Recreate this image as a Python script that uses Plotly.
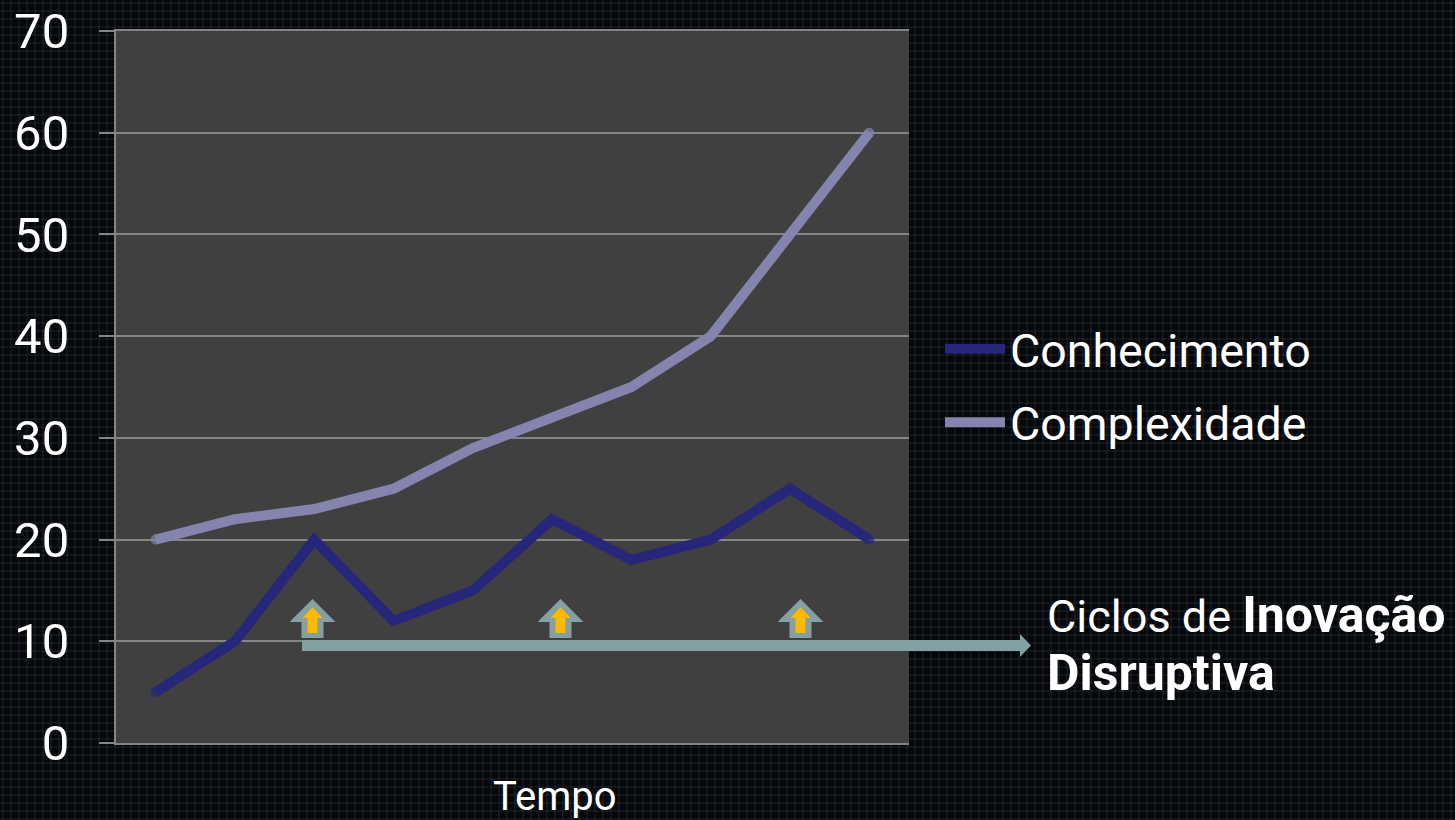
import plotly.graph_objects as go

W, H = 1455, 820
categories = list(range(1, 11))
conhecimento = [5, 10, 20, 12, 15, 22, 18, 20, 25, 20]
complexidade = [20, 22, 23, 25, 29, 32, 35, 40, 50, 60]
y_ticks = [0, 10, 20, 30, 40, 50, 60, 70]
FONT = "Roboto"
WHITE = "#ffffff"
GRID = "#858585"
BG = "#05070b"
PLOT_BG = "#404040"
LINE_W = 10
DARK = "#26267a"
LIGHT = "#8484ae"


def px(x):
    return x / W


def py(y):
    return 1 - y / H


# round end caps: a marker only on the first and last point
caps = [LINE_W] + [0] * (len(categories) - 2) + [LINE_W]

fig = go.Figure()
fig.add_trace(go.Scatter(x=categories, y=conhecimento, mode="lines+markers", name="Conhecimento", legendgroup="a",
                         line=dict(color=DARK, width=LINE_W),
                         marker=dict(size=caps, color=DARK, line=dict(width=0))))
fig.add_trace(go.Scatter(x=categories, y=complexidade, mode="lines+markers", name="Complexidade", legendgroup="b",
                         line=dict(color=LIGHT, width=LINE_W),
                         marker=dict(size=caps, color=LIGHT, line=dict(width=0))))

shapes = []
# textured background
for i in range(0, W, 8):
    shapes.append(dict(type="line", xref="paper", yref="paper", x0=px(i + 3), x1=px(i + 3), y0=0, y1=1,
                       line=dict(color="rgba(120,140,150,0.11)", width=2), layer="below"))
for j in range(0, H, 8):
    shapes.append(dict(type="line", xref="paper", yref="paper", x0=0, x1=1, y0=py(j + 3), y1=py(j + 3),
                       line=dict(color="rgba(120,140,150,0.11)", width=2), layer="below"))
# plot area panel hides the texture
shapes.append(dict(type="rect", xref="paper", yref="paper", x0=px(116), x1=px(909), y0=py(743), y1=py(31),
                   fillcolor=PLOT_BG, line=dict(width=0), layer="below"))


def poly(pts, color):
    path = "M " + " L ".join(f"{px(x):.5f},{py(y):.5f}" for x, y in pts) + " Z"
    return dict(type="path", xref="paper", yref="paper", path=path, fillcolor=color, line=dict(width=0), layer="above")


for cx in (312.5, 560.5, 800.5):
    shapes.append(poly([(cx, 599), (cx + 23, 622), (cx + 11, 622), (cx + 11, 638),
                        (cx - 11, 638), (cx - 11, 622), (cx - 23, 622)], "#84a0a2"))
    shapes.append(poly([(cx, 607), (cx + 10, 618), (cx + 5, 618), (cx + 5, 633),
                        (cx - 5, 633), (cx - 5, 618), (cx - 10, 618)], "#ffb900"))
shapes.append(poly([(302, 640), (1020, 640), (1020, 634), (1031, 645.5), (1020, 657), (1020, 651), (302, 651)], "#84a0a2"))

fig.update_layout(
    width=W, height=H, autosize=False,
    margin=dict(l=0, r=0, t=0, b=0, autoexpand=False),
    paper_bgcolor=BG,
    plot_bgcolor=PLOT_BG,
    font=dict(family=FONT, color=WHITE, size=46),
    shapes=shapes,
    showlegend=True,
    legend=dict(x=px(940), y=py(312), xanchor="left", yanchor="top", bgcolor="rgba(0,0,0,0)",
                font=dict(size=46.5, family=FONT, color=WHITE), itemwidth=60, tracegroupgap=10),
    xaxis=dict(domain=[px(116), px(909)], range=[0.5, 10.5], showticklabels=False, showgrid=False,
               ticks="", zeroline=False, showline=True, mirror=True, linecolor=GRID, linewidth=2,
               automargin=False, title=None),
    yaxis=dict(domain=[py(743), py(31)], range=[0, 70], tickvals=y_ticks, ticks="outside", ticklen=15,
               tickcolor=GRID, tickwidth=2, gridcolor=GRID, gridwidth=2, zeroline=False, automargin=False,
               ticklabelstandoff=20,
               showline=True, linecolor=GRID, linewidth=2, tickfont=dict(size=49, family=FONT, color=WHITE)),
    annotations=[
        dict(text="Tempo", xref="paper", yref="paper", x=px(555), y=py(796), showarrow=False,
             xanchor="center", yanchor="middle", font=dict(size=40, family=FONT, color=WHITE)),
        dict(text='Ciclos de <b style="font-size:50px">Inovação</b>', xref="paper", yref="paper",
             x=px(1045), y=py(615), showarrow=False, xanchor="left", yanchor="middle", align="left",
             font=dict(size=45, family=FONT, color=WHITE)),
        dict(text="<b>Disruptiva</b>", xref="paper", yref="paper",
             x=px(1045), y=py(673), showarrow=False, xanchor="left", yanchor="middle", align="left",
             font=dict(size=50, family=FONT, color=WHITE)),
    ],
)
fig.write_html("out.html", config=dict(displayModeBar=False),
               post_script=f"document.body.style.margin='0';document.body.style.background='{BG}';")
